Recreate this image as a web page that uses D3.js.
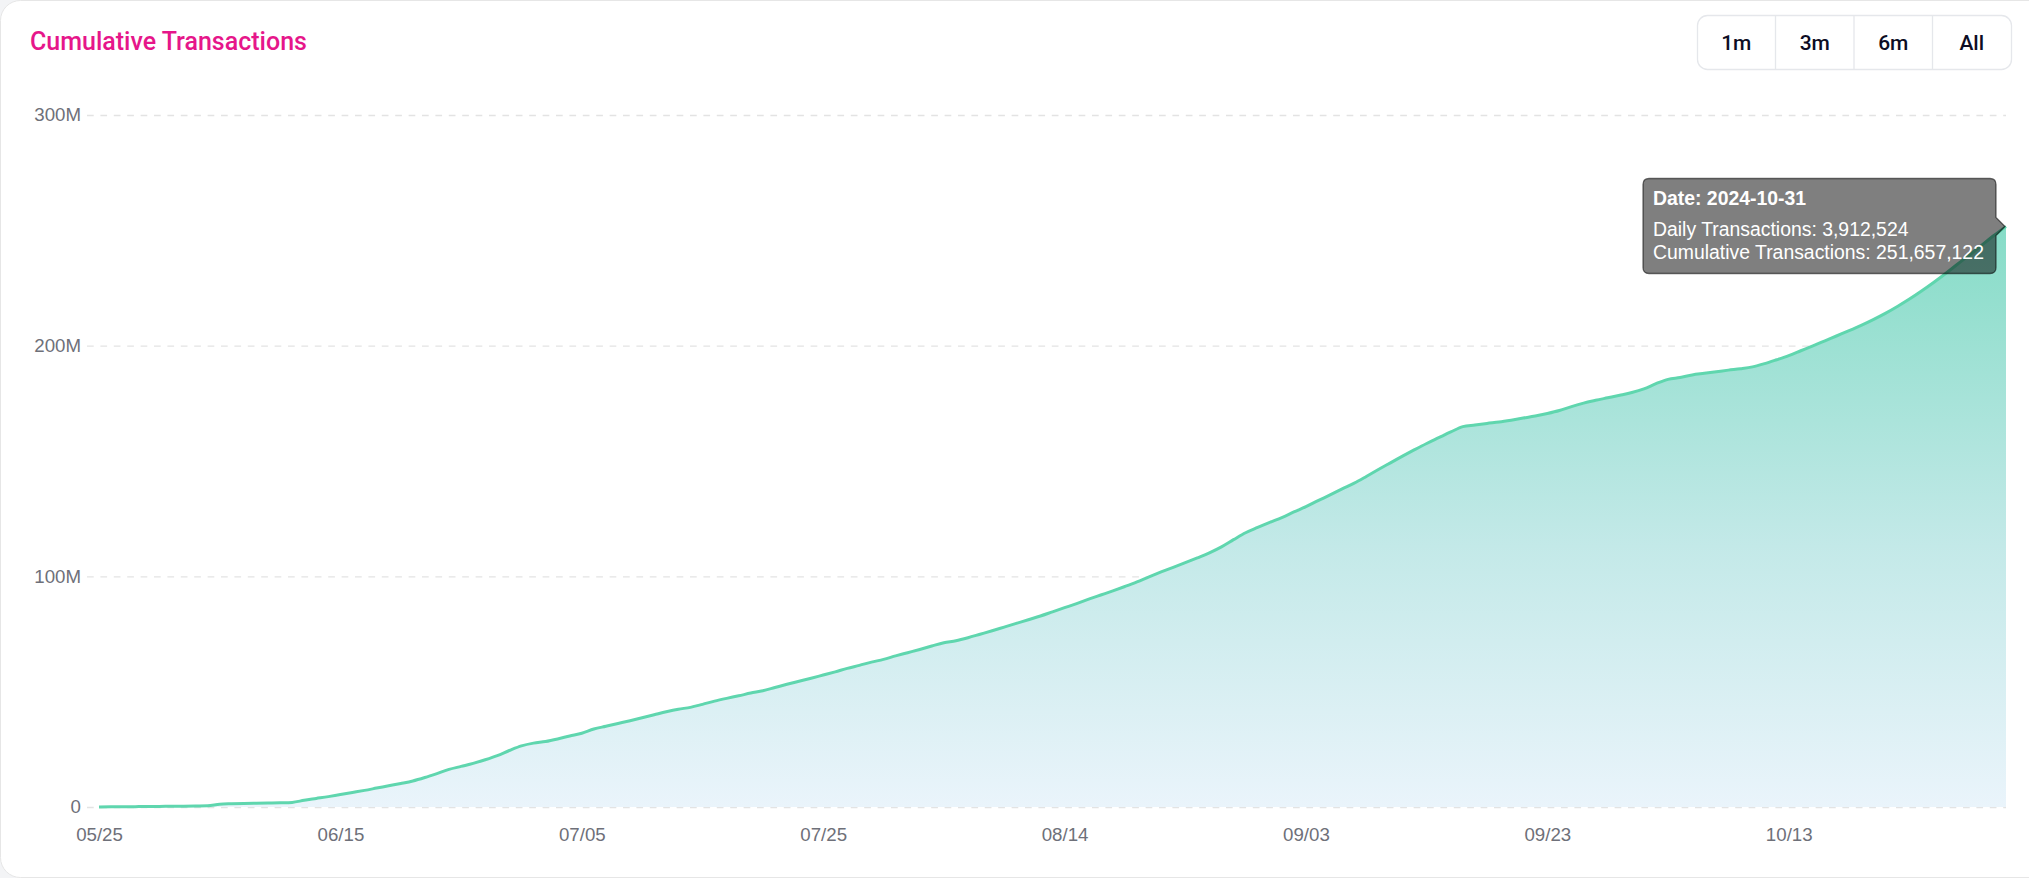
<!DOCTYPE html>
<html lang="en">
<head>
<meta charset="UTF-8">
<title>Cumulative Transactions</title>
<script src="https://cdn.jsdelivr.net/npm/d3@7"></script>
<style>
    body {
        margin: 0;
        background: #f3f4f6;
        overflow: hidden;
    }
    .grid line {
        stroke: #e3e3e3;
        stroke-dasharray: 6.7, 6.7;
        stroke-width: 1.3;
    }
    .axis text {
        font-family: "Liberation Sans", Arial, sans-serif;
        font-size: 18.7px;
        fill: #6e7079;
    }
</style>
</head>
<body>
<div id="chart"></div>
<script>
    // dates on the category axis (05/30 has no row in the source)
    const dates = [
        "05/25","05/26","05/27","05/28","05/29","05/31",
        "06/01","06/02","06/03","06/04","06/05","06/06","06/07","06/08","06/09","06/10",
        "06/11","06/12","06/13","06/14","06/15","06/16","06/17","06/18","06/19","06/20",
        "06/21","06/22","06/23","06/24","06/25","06/26","06/27","06/28","06/29","06/30",
        "07/01","07/02","07/03","07/04","07/05","07/06","07/07","07/08","07/09","07/10",
        "07/11","07/12","07/13","07/14","07/15","07/16","07/17","07/18","07/19","07/20",
        "07/21","07/22","07/23","07/24","07/25","07/26","07/27","07/28","07/29","07/30","07/31",
        "08/01","08/02","08/03","08/04","08/05","08/06","08/07","08/08","08/09","08/10",
        "08/11","08/12","08/13","08/14","08/15","08/16","08/17","08/18","08/19","08/20",
        "08/21","08/22","08/23","08/24","08/25","08/26","08/27","08/28","08/29","08/30","08/31",
        "09/01","09/02","09/03","09/04","09/05","09/06","09/07","09/08","09/09","09/10",
        "09/11","09/12","09/13","09/14","09/15","09/16","09/17","09/18","09/19","09/20",
        "09/21","09/22","09/23","09/24","09/25","09/26","09/27","09/28","09/29","09/30",
        "10/01","10/02","10/03","10/04","10/05","10/06","10/07","10/08","10/09","10/10",
        "10/11","10/12","10/13","10/14","10/15","10/16","10/17","10/18","10/19","10/20",
        "10/21","10/22","10/23","10/24","10/25","10/26","10/27","10/28","10/29","10/30","10/31"
    ];

    // cumulative transactions, millions
    const cumulative = [
        0.05, 0.08, 0.12, 0.16, 0.20, 0.25, 0.30, 0.35, 0.42, 0.50,
        1.20, 1.40, 1.55, 1.65, 1.75, 1.85, 2.00, 2.90, 3.70, 4.50,
        5.40, 6.30, 7.20, 8.20, 9.20, 10.20, 11.30, 12.80, 14.50, 16.30,
        17.60, 18.90, 20.50, 22.30, 24.50, 26.50, 27.70, 28.40, 29.50, 30.80,
        32.00, 33.80, 35.00, 36.20, 37.40, 38.70, 40.00, 41.30, 42.40, 43.20,
        44.50, 45.90, 47.10, 48.20, 49.40, 50.40, 51.80, 53.20, 54.50, 55.80,
        57.20, 58.60, 60.10, 61.40, 62.80, 64.00, 65.50, 66.90, 68.30, 69.80,
        71.20, 72.10, 73.40, 74.90, 76.40, 78.00, 79.60, 81.20, 82.80, 84.60,
        86.40, 88.20, 90.10, 91.90, 93.70, 95.60, 97.60, 99.80, 101.90, 103.90,
        105.90, 108.00, 110.20, 112.80, 115.90, 118.90, 121.20, 123.40, 125.50, 127.90,
        130.20, 132.80, 135.30, 137.90, 140.40, 143.30, 146.30, 149.20, 152.10, 154.90,
        157.60, 160.10, 162.60, 164.90, 165.60, 166.30, 166.90, 167.70, 168.60, 169.50,
        170.60, 171.90, 173.60, 175.10, 176.30, 177.40, 178.50, 179.70, 181.30, 183.50,
        185.40, 186.20, 187.30, 188.00, 188.70, 189.40, 190.00, 190.80, 192.20, 193.90,
        195.70, 197.80, 199.90, 202.10, 204.30, 206.50, 208.80, 211.30, 214.00, 217.00,
        220.20, 223.70, 227.40, 231.30, 235.40, 239.40, 243.60, 247.744598, 251.657122
    ];

    const yTicks = [0, 100, 200, 300];
    const ranges = ["1m", "3m", "6m", "All"];

    const width = 2029;
    const height = 878;

    const svg = d3.select("#chart")
        .append("svg")
        .attr("width", width)
        .attr("height", height);

    // card
    svg.append("rect")
        .attr("x", 0.5)
        .attr("y", 0.5)
        .attr("width", width + 30)
        .attr("height", height - 1)
        .attr("rx", 20)
        .style("fill", "#fff")
        .style("stroke", "#e6e6e6");

    svg.append("text")
        .attr("x", 30)
        .attr("y", 50)
        .text("Cumulative Transactions")
        .style("font-family", "Roboto, sans-serif")
        .style("font-size", "25px")
        .style("font-weight", "500")
        .style("fill", "#e6168a");

    // range buttons
    const btnW = 78.5, btnH = 54, btnX = 1697, btnY = 15;
    const btns = svg.append("g").attr("transform", `translate(${btnX},${btnY})`);
    btns.append("rect")
        .attr("x", 0.5).attr("y", 0.5)
        .attr("width", btnW * ranges.length).attr("height", btnH)
        .attr("rx", 10)
        .style("fill", "#fff")
        .style("stroke", "#e5e7eb")
        .style("stroke-width", 1.3);
    btns.selectAll("line")
        .data(ranges.slice(1))
        .enter()
        .append("line")
        .attr("x1", (d, i) => btnW * (i + 1)).attr("x2", (d, i) => btnW * (i + 1))
        .attr("y1", 0.5).attr("y2", btnH + 0.5)
        .style("stroke", "#e5e7eb")
        .style("stroke-width", 1.3);
    btns.selectAll("text")
        .data(ranges)
        .enter()
        .append("text")
        .attr("x", (d, i) => btnW * i + btnW / 2)
        .attr("y", btnH / 2 + 1)
        .attr("text-anchor", "middle")
        .attr("dominant-baseline", "central")
        .text(d => d)
        .style("font-family", "Roboto, sans-serif")
        .style("font-size", "21px")
        .style("font-weight", "500")
        .style("fill", "#0d0d24");

    // scales
    const x = d3.scalePoint().domain(dates).range([99, 2006]);
    const y = d3.scaleLinear().domain([0, 300]).range([807, 115]);

    svg.append("g")
        .attr("class", "axis grid")
        .attr("transform", "translate(87,0)")
        .call(d3.axisLeft(y)
            .tickValues(yTicks)
            .tickSize(-(2006 - 87))
            .tickPadding(6)
            .tickFormat(d => d === 0 ? "0" : d + "M"))
        .call(g => g.select(".domain").remove());

    svg.append("g")
        .attr("class", "axis")
        .attr("transform", `translate(0,${y(0)})`)
        .call(d3.axisBottom(x)
            .tickValues(dates.filter((d, i) => i % 20 === 0))
            .tickSize(0)
            .tickPadding(21))
        .call(g => g.select(".domain").remove());

    // area gradient
    const grad = svg.append("defs")
        .append("linearGradient")
        .attr("id", "fillGrad")
        .attr("x1", 0).attr("y1", 0).attr("x2", 0).attr("y2", 1);
    grad.append("stop").attr("offset", "0%").attr("stop-color", "#86dcc7");
    grad.append("stop").attr("offset", "55%").attr("stop-color", "#c3e9e8");
    grad.append("stop").attr("offset", "100%").attr("stop-color", "#eaf4fb");

    const rows = dates.map((d, i) => ({ date: d, value: cumulative[i] }));

    svg.append("path")
        .datum(rows)
        .attr("d", d3.area()
            .x(d => x(d.date))
            .y0(y(0))
            .y1(d => y(d.value))
            .curve(d3.curveMonotoneX))
        .style("fill", "url(#fillGrad)");

    svg.append("path")
        .datum(rows)
        .attr("d", d3.line()
            .x(d => x(d.date))
            .y(d => y(d.value))
            .curve(d3.curveMonotoneX))
        .style("fill", "none")
        .style("stroke", "#5fd6ae")
        .style("stroke-width", 3)
        .style("stroke-linejoin", "round");

    // tooltip on the last day
    const last = rows.length - 1;
    const tipX = x(rows[last].date), tipY = y(rows[last].value);
    const daily = Math.round((cumulative[last] - cumulative[last - 1]) * 1e6);
    const total = Math.round(cumulative[last] * 1e6);
    const fmt = d3.format(",");

    const bx1 = tipX - 10, bx0 = bx1 - 353, by0 = tipY - 48, by1 = tipY + 47, r = 6;
    const tip = svg.append("g");
    tip.append("path")
        .attr("d", `M${bx0 + r},${by0} H${bx1 - r} Q${bx1},${by0} ${bx1},${by0 + r} V${tipY - 9}
            L${tipX - 1},${tipY} L${bx1},${tipY + 9} V${by1 - r} Q${bx1},${by1} ${bx1 - r},${by1}
            H${bx0 + r} Q${bx0},${by1} ${bx0},${by1 - r} V${by0 + r} Q${bx0},${by0} ${bx0 + r},${by0} Z`)
        .style("fill", "rgba(0,0,0,0.5)")
        .style("stroke", "rgba(0,0,0,0.55)")
        .style("stroke-width", 1.3);

    const tipLines = [
        { t: "Date: 2024-" + rows[last].date.replace("/", "-"), dy: 26, bold: true },
        { t: "Daily Transactions: " + fmt(daily), dy: 57, bold: false },
        { t: "Cumulative Transactions: " + fmt(total), dy: 80, bold: false }
    ];
    tip.selectAll("text")
        .data(tipLines)
        .enter()
        .append("text")
        .attr("x", bx0 + 10)
        .attr("y", d => by0 + d.dy)
        .text(d => d.t)
        .style("font-family", "\"Liberation Sans\", Arial, sans-serif")
        .style("font-size", "19.4px")
        .style("font-weight", d => d.bold ? "700" : "400")
        .style("fill", "#fff");
</script>
</body>
</html>
